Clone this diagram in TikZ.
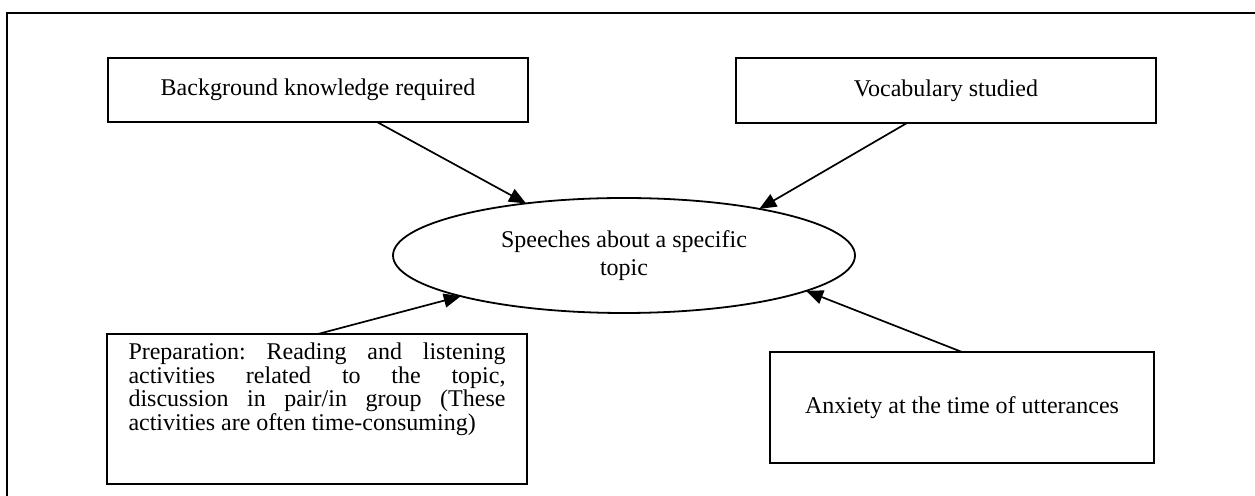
\documentclass[tikz,border=0pt]{standalone}
\usepackage{fontspec}
\setmainfont{Liberation Serif}
\usetikzlibrary{shapes.geometric,arrows.meta,calc}
\begin{document}
\begin{tikzpicture}[x=0.5pt,y=-0.5pt,
  font=\fontsize{12}{13.8}\selectfont,
  box/.style={draw,line width=0.9pt,inner sep=0pt,outer sep=0pt,align=center},
  plainbox/.style={draw,line width=0.9pt,inner sep=0pt,outer sep=0pt},
  oval/.style={draw,ellipse,line width=0.9pt,inner sep=0pt,outer sep=0pt,
    minimum width=231pt,minimum height=57.5pt,align=center},
  link/.style={line width=0.85pt,-{Triangle[length=8.5pt,width=7pt]}},
  frame/.style={line width=1pt}]
\useasboundingbox (0,0) rectangle (1255,496);
\draw[frame] (7,530) -- (7,13) -- (1290,13);
\node[box,minimum width=210pt,minimum height=32pt] (bg) at (318,90) {Background knowledge required};
\node[box,minimum width=210pt,minimum height=32.5pt] (voc) at (946,90.5) {Vocabulary studied};
\node[oval] (sp) at (624,255.5) {Speeches about a specific\\topic};
\node[plainbox,minimum width=210pt,minimum height=75pt] (prep) at (317,409)
  {\parbox[c][66.4pt][t]{188.5pt}{\fontsize{12}{10.2}\selectfont\frenchspacing\hyphenpenalty=10000
  Preparation: Reading and listening\linebreak activities related to the topic,\linebreak discussion in pair/in group (These\linebreak activities are often time-consuming)}};
\node[box,minimum width=192pt,minimum height=55.5pt] (anx) at (962,407.5) {Anxiety at the time of utterances};
\draw[link] ($(bg.south west)+(269,0)$) -- (sp.152);
\draw[link] ($(voc.south west)+(171,0)$) -- (sp.19);
\draw[link] ($(prep.north west)+(211,0)$) -- (sp.194);
\draw[link] (anx.north) -- (sp.349);
\end{tikzpicture}
\end{document}
